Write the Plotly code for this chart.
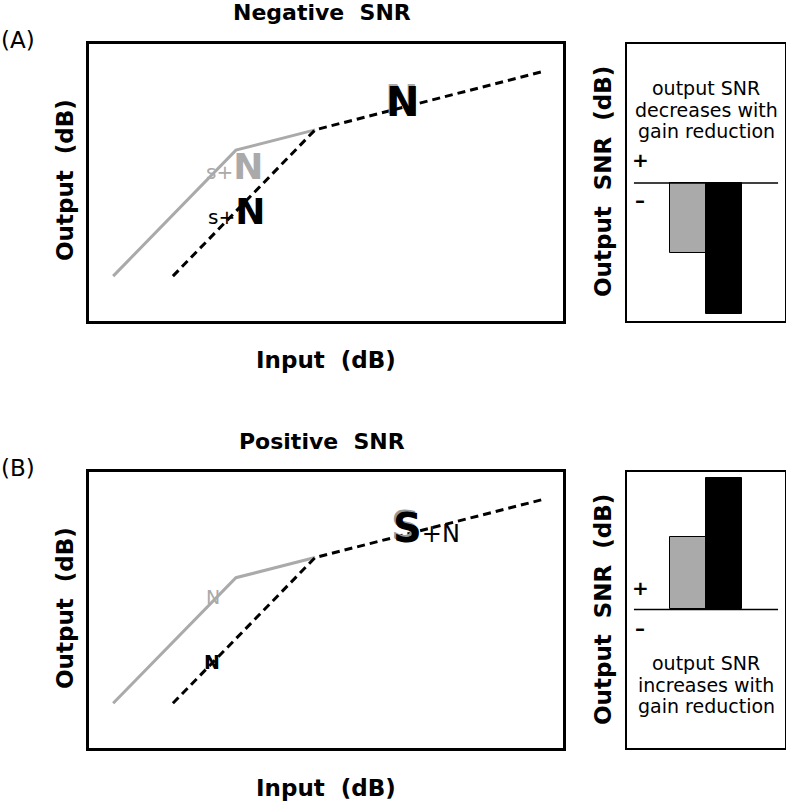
import plotly.graph_objects as go

W, H = 786, 803

# input/output curves (same shape in both panels), axis units 0-100
gray_x = [5.1, 31.0, 47.7]
gray_y = [16.2, 61.7, 69.0]
black_x = [17.7, 47.7, 95.4]
black_y = [16.2, 69.0, 89.9]

# output SNR bars (gray = linear, black = compressed)
bar_x = [3.85, 6.15]
snr_neg = [-2.53, -4.73]
snr_pos = [2.62, 4.76]
bar_colors = ["#aaaaaa", "#000000"]
zero_x = [0.44, 9.56]

FONT = "DejaVu Sans"
SP = "&nbsp; "


def px(x, y):
    return x / W, 1 - y / H


fig = go.Figure()

for xa, ya in [("x", "y"), ("x3", "y3")]:
    fig.add_trace(go.Scatter(x=gray_x, y=gray_y, mode="lines", xaxis=xa, yaxis=ya,
                             line=dict(color="#aaaaaa", width=3)))
    fig.add_trace(go.Scatter(x=black_x, y=black_y, mode="lines", xaxis=xa, yaxis=ya,
                             line=dict(color="black", width=3, dash="8px,5px")))

for xa, ya, vals in [("x2", "y2", snr_neg), ("x4", "y4", snr_pos)]:
    fig.add_trace(go.Bar(x=bar_x, y=vals, width=2.3, xaxis=xa, yaxis=ya,
                         marker=dict(color=bar_colors, line=dict(color="black", width=1))))
    fig.add_trace(go.Scatter(x=zero_x, y=[0, 0], mode="lines", xaxis=xa, yaxis=ya,
                             line=dict(color="black", width=1.5)))

ax_common = dict(showline=True, mirror=True, linecolor="black", showticklabels=False,
                 showgrid=False, zeroline=False, ticks="", fixedrange=True)
main_dx = [89 / W, 563 / W]
side_dx = [627 / W, 785 / W]
top_dy = [1 - 321 / H, 1 - 44 / H]
bot_dy = [1 - 748 / H, 1 - 472 / H]

fig.update_layout(
    width=W, height=H, margin=dict(l=0, r=0, t=0, b=0),
    paper_bgcolor="white", plot_bgcolor="white", showlegend=False,
    bargap=0,
    xaxis=dict(domain=main_dx, range=[0, 100], anchor="y", linewidth=2.5, **ax_common),
    yaxis=dict(domain=top_dy, range=[0, 100], anchor="x", linewidth=2.5, **ax_common),
    xaxis2=dict(domain=side_dx, range=[0, 10], anchor="y2", linewidth=1.5, **ax_common),
    yaxis2=dict(domain=top_dy, range=[-4.98, 5.02], anchor="x2", linewidth=1.5, **ax_common),
    xaxis3=dict(domain=main_dx, range=[0, 100], anchor="y3", linewidth=2.5, **ax_common),
    yaxis3=dict(domain=bot_dy, range=[0, 100], anchor="x3", linewidth=2.5, **ax_common),
    xaxis4=dict(domain=side_dx, range=[0, 10], anchor="y4", linewidth=1.5, **ax_common),
    yaxis4=dict(domain=bot_dy, range=[-5.02, 4.98], anchor="x4", linewidth=1.5, **ax_common),
)


def note(x, y, text, size=18, color="black", angle=0, bold=False):
    xp, yp = px(x, y)
    if bold:
        text = "<b>" + text + "</b>"
    fig.add_annotation(x=xp, y=yp, xref="paper", yref="paper", text=text, showarrow=False,
                       textangle=angle, xanchor="center", yanchor="middle",
                       font=dict(family=FONT, size=size, color=color))


for dy, panel, title in [(0, "(A)", "Negative SNR"), (428, "(B)", "Positive SNR")]:
    note(18, 40 + dy, panel, size=23)
    note(322, 13 + dy, title.replace(" ", SP), size=22, bold=True)
    note(65, 180 + dy, "Output" + SP + "(dB)", size=23, bold=True, angle=-90)
    note(326, 360 + dy, "Input" + SP + "(dB)", size=23, bold=True)
    note(603, 182 + dy, "Output" + SP + "SNR" + SP + "(dB)", size=23, bold=True, angle=-90)

# panel A side box
note(640, 160, "+", size=20, bold=True)
note(640, 200, "–", size=20, bold=True)
note(706, 88, "output SNR", size=19)
note(706, 110, "decreases with", size=19)
note(706, 131, "gain reduction", size=19)

# panel B side box
note(640, 588, "+", size=20, bold=True)
note(640, 628, "–", size=20, bold=True)
note(706, 663, "output SNR", size=19)
note(706, 685, "increases with", size=19)
note(706, 706, "gain reduction", size=19)

# curve labels, panel A
note(235, 167, "<span style='font-size:20px'>s+</span><b>N</b>", size=36, color="#aaaaaa")
note(236, 212, "<span style='font-size:20px'>s+</span><b>N</b>", size=36, color="black")
note(401, 100, "<b>N</b>", size=40, color="#aaaaaa")
note(403, 102, "<b>N</b>", size=40, color="black")

# curve labels, panel B
note(213, 597, "N", size=19, color="#aaaaaa")
note(212, 662, "<b>N</b>", size=19, color="black")
note(424, 526, "<b>S</b><span style='font-size:24px; color:rgba(0,0,0,0)'>+N</span>",
     size=40, color="#999999")
note(426, 528, "<b>S</b><span style='font-size:24px'>+N</span>", size=40, color="black")

fig.write_html("out.html", config={"displayModeBar": False},
               post_script="document.body.style.margin='0';"
               "document.body.style.overflow='hidden';")
